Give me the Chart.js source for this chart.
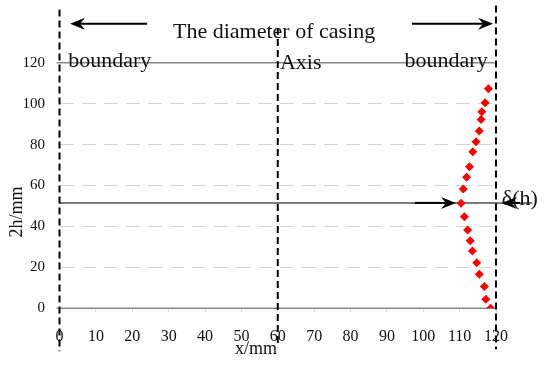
<!DOCTYPE html>
<html>
<head>
<meta charset="utf-8">
<script src="https://cdn.jsdelivr.net/npm/chart.js@4.4.1/dist/chart.umd.min.js"></script>
<style>
  body { margin: 0; background: #fff; }
  #wrap { width: 550px; height: 366px; }
</style>
</head>
<body>
<div id="wrap"><canvas id="myChart"></canvas></div>
<script>
var xMm = [118.5, 117.2, 116.8, 115.4, 114.7, 113.5, 112.9, 112.2, 111.3, 110.4,
           111.0, 111.9, 112.7, 113.6, 114.5, 115.4, 115.9, 116.1, 117.0, 117.9];
var hMm = [0, 4.4, 10.6, 16.6, 22.3, 28.0, 33.0, 38.2, 44.7, 51.3,
           58.3, 64.0, 69.2, 76.5, 81.4, 86.6, 92.3, 96.0, 100.4, 107.3];
var xTicks = [0, 10, 20, 30, 40, 50, 60, 70, 80, 90, 100, 110, 120];
var yTicks = [0, 20, 40, 60, 80, 100, 120];
var minLevel = 51.5; // height of the narrowest point

var FONT = "'Liberation Serif', 'Times New Roman', serif";

// annotations, placed in axis units
var vLines = [
    {x: 0, from: 146, to: -21},
    {x: 60, from: 137, to: -19},
    {x: 120, from: 148, to: -20}
];
var labels = [
    {text: 'The diameter of casing', x: 59, y: 132.3, align: 'center', size: 22},
    {text: 'boundary', x: 2.4, y: 117.9, align: 'left', size: 22},
    {text: 'Axis', x: 60.6, y: 116.8, align: 'left', size: 22},
    {text: 'boundary', x: 117.7, y: 117.9, align: 'right', size: 22},
    {text: 'δ(h)', x: 121.6, y: 50.5, align: 'left', size: 22},
    {text: 'x/mm', x: 54, y: -22.5, align: 'center', size: 18}
];
var arrows = [
    {from: 24.1, to: 2.9, y: 139},
    {from: 96.9, to: 119.2, y: 139},
    {from: 97.7, to: 109, y: minLevel},
    {from: 126.6, to: 121.6, y: minLevel}
];

var points = xMm.map(function(x, i) { return {x: x, y: hMm[i]}; });

function arrowHead(ctx, tx, ty, dir) {
    ctx.beginPath();
    ctx.moveTo(tx, ty);
    ctx.lineTo(tx - dir * 15, ty - 6);
    ctx.lineTo(tx - dir * 10, ty);
    ctx.lineTo(tx - dir * 15, ty + 6);
    ctx.closePath();
    ctx.fill();
}

var casingPlugin = {
    id: 'casing',
    beforeDraw: function(chart) {
        var ctx = chart.ctx;
        ctx.save();
        ctx.fillStyle = '#fff';
        ctx.fillRect(0, 0, chart.width, chart.height);
        ctx.restore();
    },
    beforeDatasetsDraw: function(chart) {
        var ctx = chart.ctx, sx = chart.scales.x, sy = chart.scales.y;
        ctx.save();
        // solid lines at 0 and 120
        ctx.strokeStyle = '#888';
        ctx.lineWidth = 1.5;
        [0, 120].forEach(function(v) {
            ctx.beginPath();
            ctx.moveTo(sx.getPixelForValue(-0.8), sy.getPixelForValue(v));
            ctx.lineTo(sx.getPixelForValue(120), sy.getPixelForValue(v));
            ctx.stroke();
        });
        // level of narrowest point
        ctx.strokeStyle = '#7a7a7a';
        ctx.lineWidth = 2;
        ctx.beginPath();
        ctx.moveTo(sx.getPixelForValue(0), sy.getPixelForValue(minLevel));
        ctx.lineTo(sx.getPixelForValue(130), sy.getPixelForValue(minLevel));
        ctx.stroke();
        // dashed boundaries / axis
        ctx.strokeStyle = '#000';
        ctx.lineWidth = 2;
        ctx.setLineDash([7, 4]);
        vLines.forEach(function(l) {
            ctx.beginPath();
            ctx.moveTo(sx.getPixelForValue(l.x), sy.getPixelForValue(l.from));
            ctx.lineTo(sx.getPixelForValue(l.x), sy.getPixelForValue(l.to));
            ctx.stroke();
        });
        ctx.restore();
    },
    afterDraw: function(chart) {
        var ctx = chart.ctx, sx = chart.scales.x, sy = chart.scales.y;
        ctx.save();
        ctx.fillStyle = '#111';
        ctx.textBaseline = 'alphabetic';
        labels.forEach(function(t) {
            ctx.font = t.size + 'px ' + FONT;
            ctx.textAlign = t.align;
            ctx.fillText(t.text, sx.getPixelForValue(t.x), sy.getPixelForValue(t.y));
        });
        // rotated y title
        ctx.font = '18px ' + FONT;
        ctx.textAlign = 'center';
        ctx.textBaseline = 'middle';
        ctx.translate(sx.getPixelForValue(-11.6), sy.getPixelForValue(47));
        ctx.rotate(-Math.PI / 2);
        ctx.fillText('2h/mm', 0, 0);
        ctx.restore();

        ctx.save();
        ctx.strokeStyle = '#000';
        ctx.fillStyle = '#000';
        ctx.lineWidth = 2;
        arrows.forEach(function(a) {
            var x1 = sx.getPixelForValue(a.from), x2 = sx.getPixelForValue(a.to);
            var y = sy.getPixelForValue(a.y);
            var dir = x2 > x1 ? 1 : -1;
            ctx.beginPath();
            ctx.moveTo(x1, y);
            ctx.lineTo(x2 - dir * 10, y);
            ctx.stroke();
            arrowHead(ctx, x2, y, dir);
        });
        ctx.restore();
    }
};

var chart = new Chart('myChart', {
    type: 'scatter',
    data: {
        datasets: [{
            data: points,
            pointStyle: 'rectRot',
            pointRadius: 4.5,
            pointBackgroundColor: '#ff0000',
            pointBorderColor: '#ff0000',
            pointBorderWidth: 0
        }]
    },
    options: {
        responsive: true,
        maintainAspectRatio: false,
        animation: false,
        layout: {padding: {top: 62.7, right: 54, left: 0, bottom: 0}},
        plugins: {legend: {display: false}, tooltip: {enabled: false}},
        scales: {
            x: {
                type: 'linear',
                min: 0, max: 120,
                afterFit: function(s) { s.height = 57.7; },
                afterBuildTicks: function(s) { s.ticks = xTicks.map(function(v) { return {value: v}; }); },
                grid: {drawOnChartArea: false, drawTicks: true, tickLength: 4, tickColor: '#d8d8d8'},
                border: {display: false},
                ticks: {
                    autoSkip: false, maxRotation: 0, padding: 15,
                    color: '#111', font: {family: FONT, size: 16}
                }
            },
            y: {
                type: 'linear',
                min: 0, max: 120,
                afterFit: function(s) { s.width = 59.5; },
                afterBuildTicks: function(s) { s.ticks = yTicks.map(function(v) { return {value: v}; }); },
                grid: {color: '#d4d4d4', lineWidth: 1, drawTicks: false},
                border: {display: false, dash: [14, 8]},
                ticks: {padding: 14.5, color: '#111', font: {family: FONT, size: 15}}
            }
        }
    },
    plugins: [casingPlugin]
});
</script>
</body>
</html>
